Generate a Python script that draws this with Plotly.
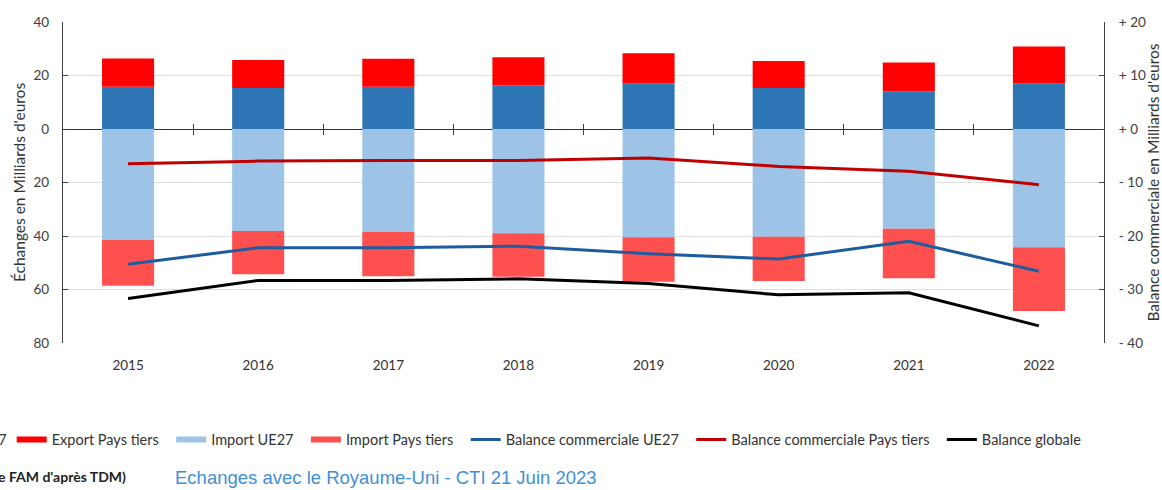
import plotly.graph_objects as go

years = ["2015", "2016", "2017", "2018", "2019", "2020", "2021", "2022"]
export_ue27 = [15.8, 15.3, 15.8, 16.4, 17.1, 15.3, 14.1, 17.1]
export_pt = [10.6, 10.5, 10.5, 10.4, 11.2, 10.1, 10.8, 13.7]
import_ue27 = [-41.5, -38.1, -38.5, -39.0, -40.5, -40.3, -37.3, -44.2]
import_pt = [-17.1, -16.2, -16.5, -16.2, -16.6, -16.5, -18.5, -23.8]
bal_ue27 = [-25.3, -22.2, -22.2, -21.9, -23.3, -24.3, -21.0, -26.6]
bal_pt = [-6.5, -6.0, -5.9, -5.9, -5.4, -7.0, -7.9, -10.4]
bal_glob = [-31.7, -28.3, -28.3, -28.0, -28.9, -31.0, -30.6, -36.8]

left_ticks = [40, 20, 0, -20, -40, -60, -80]
left_text = ["40", "20", "0", "20", "40", "60", "80"]
right_ticks = [20, 10, 0, -10, -20, -30, -40]
right_text = ["+ 20", "+ 10", "+ 0", "- 10", "- 20", "- 30", "- 40"]

C_EXP_UE = "#2E75B6"
C_EXP_PT = "#FF0000"
C_IMP_UE = "#9DC3E6"
C_IMP_PT = "#FF5050"
C_BAL_UE = "#1F5C9E"
C_BAL_PT = "#C00000"
C_BAL_G = "#000000"

FONT = "Lato"
PAD = "\u00a0\u00a0"
fig = go.Figure()

bars = [("Export UE27", export_ue27, C_EXP_UE),
        ("Export Pays tiers", export_pt, C_EXP_PT),
        ("Import UE27", import_ue27, C_IMP_UE),
        ("Import Pays tiers", import_pt, C_IMP_PT)]
for name, vals, col in bars:
    fig.add_trace(go.Bar(x=years, y=vals, name=name, marker_color=col,
                         marker_line_width=0, width=0.4, showlegend=False,
                         legendgroup=name))

# legend entries for bars drawn as wide swatches
for i, (name, vals, col) in enumerate(bars):
    fig.add_trace(go.Scatter(x=[None], y=[None], mode="lines", name=name + PAD,
                             line=dict(color=col, width=6), legendgroup=name,
                             legend="legend2" if i == 0 else "legend"))

lines = [("Balance commerciale UE27", bal_ue27, C_BAL_UE),
         ("Balance commerciale Pays tiers", bal_pt, C_BAL_PT),
         ("Balance globale", bal_glob, C_BAL_G)]
for i, (name, vals, col) in enumerate(lines):
    fig.add_trace(go.Scatter(x=years, y=vals, name=name + (PAD if i < 2 else ""), mode="lines",
                             line=dict(color=col, width=3), yaxis="y2"))

# helper traces for the category-boundary ticks on the zero line
fig.add_trace(go.Scatter(x=[None], y=[None], xaxis="x2", showlegend=False, hoverinfo="skip"))
fig.add_trace(go.Scatter(x=[None], y=[None], xaxis="x3", showlegend=False, hoverinfo="skip"))

bound_vals = [i + 0.5 for i in range(len(years) - 1)]
zero_pos = 80 / 120

W, H = 1162, 490
L, R, T, B = 63.3, 58, 21.7, 146.7
PW = W - L - R
PH = H - T - B


def px_x(x):
    return (x - L) / PW


def px_y(y):
    return (H - B - y) / PH


legend_common = dict(orientation="h", xanchor="left", y=px_y(440), yanchor="middle",
                     font=dict(size=14.5, color="#333333", family=FONT),
                     bgcolor="rgba(0,0,0,0)", traceorder="normal", itemwidth=30)

fig.update_layout(
    width=W, height=H,
    paper_bgcolor="white", plot_bgcolor="white",
    margin=dict(l=L, r=R, t=T, b=B, autoexpand=False),
    barmode="relative",
    font=dict(family=FONT, color="#404040", size=12),
    xaxis=dict(type="category", showgrid=False, showline=False, ticks="",
               tickfont=dict(size=13.5, color="#333333", family=FONT),
               ticklabelstandoff=12, range=[-0.5, 7.5]),
    xaxis2=dict(overlaying="x", anchor="free", position=zero_pos, range=[-0.5, 7.5],
                showgrid=False, showline=False, zeroline=False, showticklabels=False,
                tickvals=bound_vals, ticks="outside", ticklen=5, tickcolor="#404040", tickwidth=1.3),
    xaxis3=dict(overlaying="x", anchor="free", position=zero_pos, range=[-0.5, 7.5],
                showgrid=False, showline=False, zeroline=False, showticklabels=False,
                tickvals=bound_vals, ticks="inside", ticklen=5, tickcolor="#404040", tickwidth=1.3),
    yaxis=dict(range=[-80, 40], tickvals=left_ticks, ticktext=left_text,
               showgrid=True, gridcolor="#DEDEDE", gridwidth=1.3,
               zeroline=True, zerolinecolor="#333333", zerolinewidth=1.3,
               showline=True, linecolor="#404040", linewidth=1.3,
               ticks="inside", ticklen=5, tickcolor="#404040",
               ticklabelstandoff=10,
               tickfont=dict(size=13.5, color="#404040"),
               title=dict(text="Échanges en Milliards d'euros", font=dict(size=15.5, color="#333333"),
                          standoff=4)),
    yaxis2=dict(range=[-40, 20], tickvals=right_ticks, ticktext=right_text,
                overlaying="y", side="right", showgrid=False, zeroline=False,
                showline=True, linecolor="#404040", linewidth=1.3,
                ticks="inside", ticklen=5, tickcolor="#404040",
                ticklabelstandoff=11,
                tickfont=dict(size=13.5, color="#404040"),
                title=dict(text="Balance commerciale en Milliards d'euros",
                           font=dict(size=15.5, color="#333333"), standoff=4)),
    legend=dict(x=px_x(12), **legend_common),
    legend2=dict(x=px_x(-115), **legend_common),
    showlegend=True,
)

fig.add_annotation(text="<b>(Source FAM d'après TDM)</b>", xref="paper", yref="paper",
                   x=px_x(128), y=px_y(477), xanchor="right", yanchor="middle",
                   showarrow=False, font=dict(size=14, color="#222222", family=FONT))
fig.add_annotation(text="Echanges avec le Royaume-Uni - CTI 21 Juin 2023", xref="paper", yref="paper",
                   x=px_x(173), y=px_y(478), xanchor="left", yanchor="middle",
                   showarrow=False, font=dict(size=18.5, color="#3F8FD8", family="Liberation Sans"))

fig.write_html("out.html", config={"displayModeBar": False},
               post_script="document.body.style.margin='0';")
